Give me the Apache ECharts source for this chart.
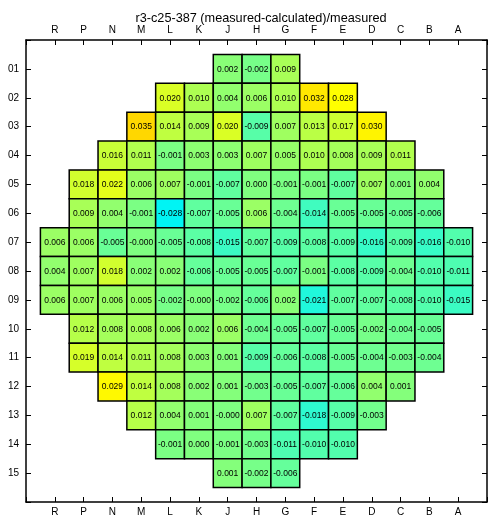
<!DOCTYPE html>
<html>
<head>
<meta charset="utf-8">
<script src="https://cdn.jsdelivr.net/npm/echarts@6/dist/echarts.min.js"></script>
<style>
  html, body { margin: 0; padding: 0; background: #fff; }
  #chart { width: 490px; height: 517px; }
</style>
</head>
<body>
<div id="chart"></div>
<script>
// Core assembly map: relative deviation (measured - calculated) / measured
const title = 'r3-c25-387 (measured-calculated)/measured';
const columns = ['R', 'P', 'N', 'M', 'L', 'K', 'J', 'H', 'G', 'F', 'E', 'D', 'C', 'B', 'A'];
const rowLabels = ['01', '02', '03', '04', '05', '06', '07', '08', '09', '10', '11', '12', '13', '14', '15'];

// One array per row, R..A; null = no assembly in that position
const row01 = [null, null, null, null, null, null, 0.002, -0.002, 0.009, null, null, null, null, null, null];
const row02 = [null, null, null, null, 0.020, 0.010, 0.004, 0.006, 0.010, 0.032, 0.028, null, null, null, null];
const row03 = [null, null, null, 0.035, 0.014, 0.009, 0.020, -0.009, 0.007, 0.013, 0.017, 0.030, null, null, null];
const row04 = [null, null, 0.016, 0.011, -0.001, 0.003, 0.003, 0.007, 0.005, 0.010, 0.008, 0.009, 0.011, null, null];
const row05 = [null, 0.018, 0.022, 0.006, 0.007, -0.001, -0.007, 0.000, -0.001, -0.001, -0.007, 0.007, 0.001, 0.004, null];
const row06 = [null, 0.009, 0.004, -0.001, -0.028, -0.007, -0.005, 0.006, -0.004, -0.014, -0.005, -0.005, -0.005, -0.006, null];
const row07 = [0.006, 0.006, -0.005, -0.0003, -0.005, -0.008, -0.015, -0.007, -0.009, -0.008, -0.009, -0.016, -0.009, -0.016, -0.010];
const row08 = [0.004, 0.007, 0.018, 0.002, 0.002, -0.006, -0.005, -0.005, -0.007, -0.001, -0.008, -0.009, -0.004, -0.010, -0.011];
const row09 = [0.006, 0.007, 0.006, 0.005, -0.002, -0.0003, -0.002, -0.006, 0.002, -0.021, -0.007, -0.007, -0.008, -0.010, -0.015];
const row10 = [null, 0.012, 0.008, 0.008, 0.006, 0.002, 0.006, -0.004, -0.005, -0.007, -0.005, -0.002, -0.004, -0.005, null];
const row11 = [null, 0.019, 0.014, 0.011, 0.008, 0.003, 0.001, -0.009, -0.006, -0.008, -0.005, -0.004, -0.003, -0.004, null];
const row12 = [null, null, 0.029, 0.014, 0.008, 0.002, 0.001, -0.003, -0.005, -0.007, -0.006, 0.004, 0.001, null, null];
const row13 = [null, null, null, 0.012, 0.004, 0.001, -0.0003, 0.007, -0.007, -0.018, -0.009, -0.003, null, null, null];
const row14 = [null, null, null, null, -0.001, 0.000, -0.001, -0.003, -0.011, -0.010, -0.010, null, null, null, null];
const row15 = [null, null, null, null, null, null, 0.001, -0.002, -0.006, null, null, null, null, null, null];

const rows = [row01, row02, row03, row04, row05, row06, row07, row08, row09, row10, row11, row12, row13, row14, row15];

// [column index, row number, value]
const cells = [];
rows.forEach((row, r) => {
  row.forEach((v, c) => {
    if (v !== null) cells.push([c, r + 1, v]);
  });
});

const fmt = v => v.toFixed(3);
const FONT = '"Liberation Sans", Arial, Helvetica, sans-serif';

function renderCell(params, api) {
  const c = api.coord([api.value(0), api.value(1)]);
  const s = api.size([1, 1]);
  const w = Math.abs(s[0]), h = Math.abs(s[1]);
  return {
    type: 'group',
    children: [
      {
        type: 'rect',
        shape: { x: c[0] - w / 2, y: c[1] - h / 2, width: w, height: h },
        style: { fill: api.visual('color'), stroke: '#000', lineWidth: 1.5 }
      },
      {
        type: 'text',
        z2: 10,
        style: {
          text: fmt(api.value(2)),
          x: c[0], y: c[1] + 0.5,
          align: 'center', verticalAlign: 'middle',
          font: '8.5px ' + FONT,
          fill: '#000'
        }
      }
    ]
  };
}

const frameLine = { show: true, onZero: false, lineStyle: { color: '#000', width: 1.5 } };
const inTicks = { show: true, inside: true, length: 5, lineStyle: { color: '#000', width: 1 } };

const xCommon = {
  type: 'value', min: -1, max: 15, interval: 1,
  axisLine: frameLine, axisTick: inTicks, splitLine: { show: false },
  axisLabel: {
    color: '#000', fontSize: 10, fontFamily: FONT, margin: 5,
    showMinLabel: true, showMaxLabel: true,
    formatter: v => columns[v] || ''
  }
};
const yCommon = {
  type: 'value', min: 0, max: 16, interval: 1, inverse: true,
  axisLine: frameLine, axisTick: inTicks, splitLine: { show: false }
};

const chart = echarts.init(document.getElementById('chart'), null, { renderer: 'canvas' });
chart.setOption({
  animation: false,
  backgroundColor: '#fff',
  title: {
    text: title, left: 256, top: 7, textAlign: 'center',
    textStyle: { fontSize: 12.7, fontWeight: 'normal', color: '#000', fontFamily: FONT }
  },
  grid: { left: 26, top: 40, width: 462, height: 462, containLabel: false },
  xAxis: [
    Object.assign({}, xCommon, { position: 'bottom' }),
    Object.assign({}, xCommon, { position: 'top' })
  ],
  yAxis: [
    Object.assign({}, yCommon, {
      position: 'left',
      axisLabel: {
        color: '#000', fontSize: 10, fontFamily: FONT, margin: 7,
        formatter: v => rowLabels[v - 1] || ''
      }
    }),
    Object.assign({}, yCommon, { position: 'right', axisLabel: { show: false } })
  ],
  visualMap: {
    show: false, type: 'continuous', dimension: 2, seriesIndex: 0,
    min: -0.028, max: 0.035,
    inRange: {
      color: ['#00f4f4', '#20f8dc', '#40fcbf', '#60ff9f', '#80ff80',
              '#9fff60', '#bfff40', '#dfff20', '#ffff00', '#ffd700']
    }
  },
  series: [{
    type: 'custom',
    xAxisIndex: 0, yAxisIndex: 0,
    renderItem: renderCell,
    encode: { x: 0, y: 1 },
    data: cells
  }]
});
</script>
</body>
</html>
